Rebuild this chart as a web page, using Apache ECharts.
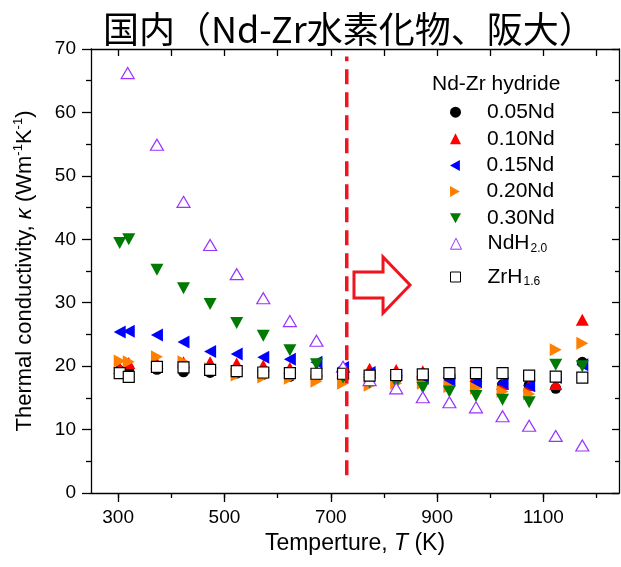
<!DOCTYPE html>
<html><head><meta charset="utf-8">
<script src="https://cdn.jsdelivr.net/npm/echarts@6/dist/echarts.min.js"></script>
<style>html,body{margin:0;padding:0;background:#fff}#c{width:621px;height:567px}</style>
</head><body><div id="c"></div>
<script>
// ---- data ----
const temps = [303, 320, 373, 423, 473, 523, 573, 623, 673, 723, 773, 823, 873, 923, 973, 1023, 1073, 1123, 1173];
const nd005 = [19.3, 19.6, 19.5, 19.1, 19.0, 18.9, 18.7, 18.4, 18.5, 18.3, 18.2, 18.0, 17.8, 17.6, 17.5, 17.1, 17.0, 16.5, 20.6];
const nd010 = [19.7, 20.5, 20.5, 20.6, 20.6, 20.4, 20.1, 19.7, 19.3, 19.0, 19.6, 19.4, 19.2, 19.0, 18.5, 17.2, 17.0, 17.2, 27.3];
const nd015 = [25.4, 25.5, 24.9, 23.8, 22.3, 21.9, 21.4, 21.1, 20.6, 19.8, 19.0, 18.6, 18.1, 17.8, 17.5, 17.3, 16.9, 18.2, 20.2];
const nd020 = [20.8, 20.7, 21.5, 20.7, 19.6, 18.6, 18.3, 18.1, 17.6, 17.3, 17.0, 17.3, 17.3, 16.8, 16.5, 16.0, 15.6, 22.6, 23.6];
const nd030 = [39.4, 40.0, 35.2, 32.3, 29.8, 26.8, 24.8, 22.5, 20.3, 18.2, 17.4, 17.4, 16.6, 16.0, 15.3, 14.7, 14.3, 20.2, 20.0];
const ndh2Temps = [318, 373, 423, 473, 523, 573, 623, 673, 723, 773, 823, 873, 923, 973, 1023, 1073, 1123, 1173];
const ndh2 = [66.2, 54.9, 45.9, 39.1, 34.5, 30.7, 27.1, 24.0, 19.9, 17.8, 16.5, 15.1, 14.3, 13.5, 12.1, 10.6, 9.0, 7.5];
const zrh16 = [18.9, 18.3, 19.9, 19.8, 19.4, 19.2, 19.0, 18.9, 18.8, 18.8, 18.5, 18.6, 18.7, 18.9, 18.9, 18.9, 18.5, 18.35, 18.2];

const xLabelTicks = [300, 500, 700, 900, 1100];
const xMinorTicks = [300, 400, 500, 600, 700, 800, 900, 1000, 1100, 1200];
const yTickStep = 10;

// annotation: dashed boundary and arrow (data coordinates)
const boundaryT = 730;
const boundaryRange = [2.8, 68.8];
const arrowPts = [[743.6, 34.84], [798.2, 34.84], [798.2, 37.21], [849, 32.79], [798.2, 28.38], [798.2, 30.74], [743.6, 30.74]];

const seriesNames = ['0.05Nd', '0.10Nd', '0.15Nd', '0.20Nd', '0.30Nd', 'NdH2.0', 'ZrH1.6'];
const legendCenters = [110.7, 137.3, 164, 190, 216.7, 242.7, 276];

const pair = (xs, ys) => xs.map((x, i) => [x, ys[i]]);
const LAT = 'Liberation Sans, Arial, sans-serif';
const RED = '#f0141e';

const chart = echarts.init(document.getElementById('c'), null, {renderer: 'canvas'});

function scat(name, data, symbol, size, style) {
  return {
    name, type: 'scatter', data, symbol, symbolSize: size,
    itemStyle: Object.assign({opacity: 1}, style), emphasis: {disabled: true}, xAxisIndex: 0, yAxisIndex: 0
  };
}

const legendRich = {
  m: {fontSize: 21, lineHeight: 22, verticalAlign: 'middle', fontFamily: LAT, color: '#000'},
  s: {fontSize: 12, lineHeight: 12, verticalAlign: 'bottom', padding: [22, 0, 0, 1], fontFamily: LAT, color: '#000'}
};
function legendFmt(name) {
  if (name === 'NdH2.0') return '{m|NdH}{s|2.0}';
  if (name === 'ZrH1.6') return '{m|ZrH}{s|1.6}';
  return '{m|' + name + '}';
}
const legends = seriesNames.map((n, i) => ({
  data: [n], orient: 'vertical', left: 450,
  top: legendCenters[i] - (i >= 5 ? 22 : 9),
  padding: 0, itemWidth: i === 6 ? 10 : 11, itemHeight: i === 6 ? 10 : 11, selectedMode: false,
  itemStyle: {borderWidth: 1},
  formatter: legendFmt,
  textStyle: {fontSize: 21, fontFamily: LAT, color: '#000', padding: [0, 0, 0, i === 6 ? 22 : 21], rich: legendRich}
}));

const axLine = {show: true, lineStyle: {color: '#000', width: 1.3}};
const tickStyle = {color: '#000', width: 1.3};
const plainNum = v => String(v);

const option = {
  animation: false,
  backgroundColor: '#fff',
  title: [
    {text: '国内（Nd-Zr水素化物、阪大）', left: 103, top: 11, padding: 0,
     textStyle: {fontSize: 36, fontWeight: 'normal', color: '#000', fontFamily: 'Noto Sans CJK JP'}},
    {text: 'Nd-Zr hydride', left: 432, top: 74, padding: 0,
     textStyle: {fontSize: 21, fontWeight: 'normal', color: '#000', fontFamily: LAT}}
  ],
  legend: legends,
  grid: {left: 91, right: 2, top: 49, bottom: 74, outerBoundsMode: 'none', containLabel: false},
  xAxis: [
    {type: 'value', position: 'bottom', min: 249, max: 1242,
     axisLine: axLine, splitLine: {show: false},
     axisTick: {show: true, inside: false, length: 5, lineStyle: tickStyle, customValues: xMinorTicks},
     axisLabel: {show: true, customValues: xLabelTicks, formatter: plainNum, margin: 15, fontSize: 19, color: '#000', fontFamily: LAT},
     name: 'Temperture, {i|T} (K)', nameLocation: 'middle', nameGap: 38,
     nameTextStyle: {fontSize: 23, color: '#000', fontFamily: LAT,
       rich: {i: {fontStyle: 'italic', fontSize: 23, color: '#000', fontFamily: LAT}}}},
    {type: 'value', position: 'bottom', min: 249, max: 1242,
     axisLine: {show: false}, splitLine: {show: false}, axisLabel: {show: false},
     axisTick: {show: true, inside: false, length: 9, lineStyle: tickStyle, customValues: xLabelTicks}},
    {type: 'value', position: 'top', min: 249, max: 1242,
     axisLine: axLine, splitLine: {show: false}, axisLabel: {show: false},
     axisTick: {show: true, inside: true, length: 7, lineStyle: tickStyle, customValues: xMinorTicks}}
  ],
  yAxis: [
    {type: 'value', position: 'left', min: 0, max: 70, interval: yTickStep,
     axisLine: axLine, splitLine: {show: false},
     axisTick: {show: true, inside: false, length: 9, lineStyle: tickStyle},
     minorTick: {show: true, splitNumber: 2, length: 5, lineStyle: tickStyle},
     axisLabel: {margin: 15, fontSize: 19, color: '#000', fontFamily: LAT, formatter: plainNum},
     name: 'Thermal conductivity, {i|κ} (Wm{sp|-1}K{sp|-1})', nameLocation: 'middle', nameGap: 53,
     nameTextStyle: {fontSize: 22, lineHeight: 26, color: '#000', fontFamily: LAT,
       rich: {
         i: {fontStyle: 'italic', fontSize: 22, lineHeight: 26, color: '#000', fontFamily: LAT},
         sp: {fontSize: 13, lineHeight: 13, verticalAlign: 'top', color: '#000', fontFamily: LAT}
       }}},
    {type: 'value', position: 'right', min: 0, max: 70, interval: yTickStep,
     axisLine: axLine, splitLine: {show: false}, axisLabel: {show: false},
     axisTick: {show: true, inside: true, length: 7, lineStyle: tickStyle},
     minorTick: {show: true, splitNumber: 2, length: 4, lineStyle: tickStyle}}
  ],
  series: [
    scat('0.05Nd', pair(temps, nd005), 'circle', 11, {color: '#000'}),
    scat('0.10Nd', pair(temps, nd010), 'triangle', [13, 12], {color: '#ff0000'}),
    scat('0.15Nd', pair(temps, nd015), 'path://M0,5L9,0L9,10Z', [12, 13], {color: '#0000ff'}),
    scat('0.20Nd', pair(temps, nd020), 'path://M0,0L9,5L0,10Z', [12, 13], {color: '#ff8000'}),
    scat('0.30Nd', pair(temps, nd030), 'path://M0,0L10,0L5,9Z', [13, 12], {color: '#007a00'}),
    scat('NdH2.0', pair(ndh2Temps, ndh2), 'triangle', [13, 11], {color: '#ffffff', borderColor: '#9933ff', borderWidth: 1.2}),
    scat('ZrH1.6', pair(temps, zrh16), 'rect', 11, {color: '#ffffff', borderColor: '#000', borderWidth: 1.2}),
    {type: 'line', name: 'boundary', data: [[boundaryT, boundaryRange[0]], [boundaryT, boundaryRange[1]]],
     symbol: 'none', z: 5, silent: true,
     lineStyle: {color: RED, width: 3.5, type: [15, 8]}},
    {type: 'custom', name: 'arrow', data: [[0, 0]], z: 5, silent: true,
     renderItem: (params, api) => ({
       type: 'polygon',
       shape: {points: arrowPts.map(p => api.coord(p))},
       style: {fill: '#fff', stroke: RED, lineWidth: 3, lineJoin: 'miter'}
     })}
  ]
};
chart.setOption(option);
</script></body></html>
